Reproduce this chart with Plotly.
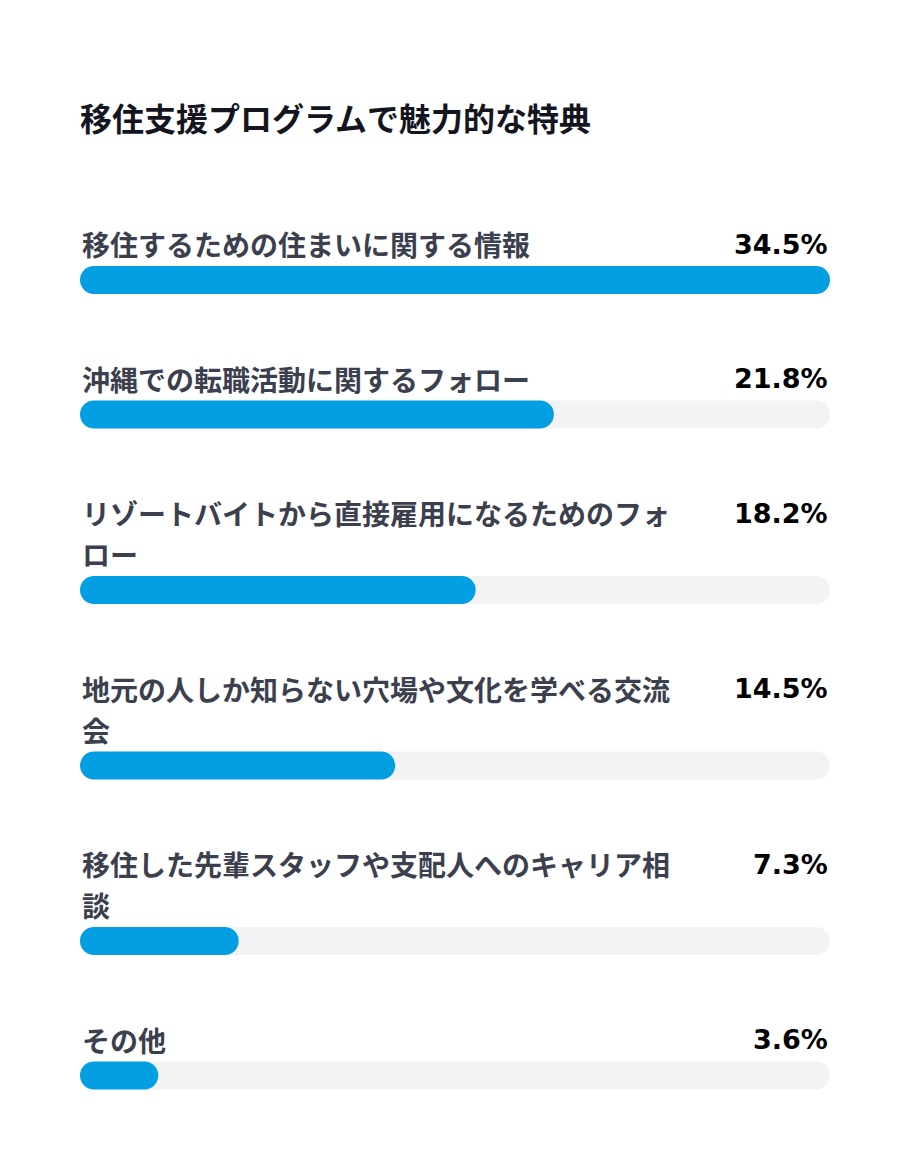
import plotly.graph_objects as go

title = "移住支援プログラムで魅力的な特典"
categories = [
    "移住するための住まいに関する情報",
    "沖縄での転職活動に関するフォロー",
    "リゾートバイトから直接雇用になるためのフォロー",
    "地元の人しか知らない穴場や文化を学べる交流会",
    "移住した先輩スタッフや支配人へのキャリア相談",
    "その他",
]
values = [34.5, 21.8, 18.2, 14.5, 7.3, 3.6]
value_labels = ["34.5%", "21.8%", "18.2%", "14.5%", "7.3%", "3.6%"]

# page body has an 8px margin; figure sized so the page fits the window
OFF = 8
W, H = 910 - 2 * OFF, 1170 - 2 * OFF
PLOT_LEFT, PLOT_RIGHT = 80, 830          # on-screen pixels
WRAP = 21
LINE_H = 41
FIRST_LINE = 244
LABEL_TO_BAR = 36
BAR_TO_NEXT = 98.5
BAR_THICK = 28
RADIUS_PX = BAR_THICK / 2

BLUE = "#049fe2"
TRACK = "#f3f3f6"
LABEL_COLOR = "#3b3f4e"
FONT = "Noto Sans CJK JP"


def wrap(s, n):
    return [s[i:i + n] for i in range(0, len(s), n)]


vmax = max(values)

# layout rows derived from number of wrapped label lines
label_lines, bar_y = [], []
y = FIRST_LINE
for c in categories:
    lines = wrap(c, WRAP)
    ys = [y + k * LINE_H for k in range(len(lines))]
    label_lines.append(list(zip(lines, ys)))
    by = ys[-1] + LABEL_TO_BAR
    bar_y.append(by)
    y = by + BAR_TO_NEXT

fig = go.Figure()


def pill_bar(vals, color):
    # with an explicit base, plotly rounds both ends of each bar
    fig.add_trace(go.Bar(
        y=bar_y, x=vals, base=[0] * len(vals),
        orientation="h", width=BAR_THICK,
        marker=dict(color=color, line=dict(width=0), cornerradius=RADIUS_PX),
        hoverinfo="skip", showlegend=False))


pill_bar([vmax] * len(values), TRACK)
pill_bar(values, BLUE)

annotations = []
for lines, vl in zip(label_lines, value_labels):
    for txt, ly in lines:
        annotations.append(dict(
            x=0, y=ly, xref="x", yref="y", text=txt, showarrow=False,
            xanchor="left", yanchor="middle",
            font=dict(family=FONT, size=28, color=LABEL_COLOR, weight="bold")))
    annotations.append(dict(
        x=vmax, y=lines[0][1], xref="x", yref="y", text=vl, showarrow=False,
        xanchor="right", yanchor="middle",
        font=dict(family="DejaVu Sans", size=27, color="#000000", weight="bold")))

fig.update_layout(
    width=W, height=H,
    margin=dict(l=PLOT_LEFT - OFF, r=W - (PLOT_RIGHT - OFF), t=0, b=0),
    paper_bgcolor="white", plot_bgcolor="white",
    barmode="overlay",
    title=dict(text=title, x=0, xref="paper", xanchor="left",
               y=1 - (120 - OFF) / H, yref="container", yanchor="middle",
               font=dict(family=FONT, size=32, color="#15151f", weight="bold")),
    xaxis=dict(range=[0, vmax], visible=False, fixedrange=True),
    yaxis=dict(range=[H + OFF, OFF], visible=False, fixedrange=True),
    annotations=annotations,
)

fig.write_html("out.html")
